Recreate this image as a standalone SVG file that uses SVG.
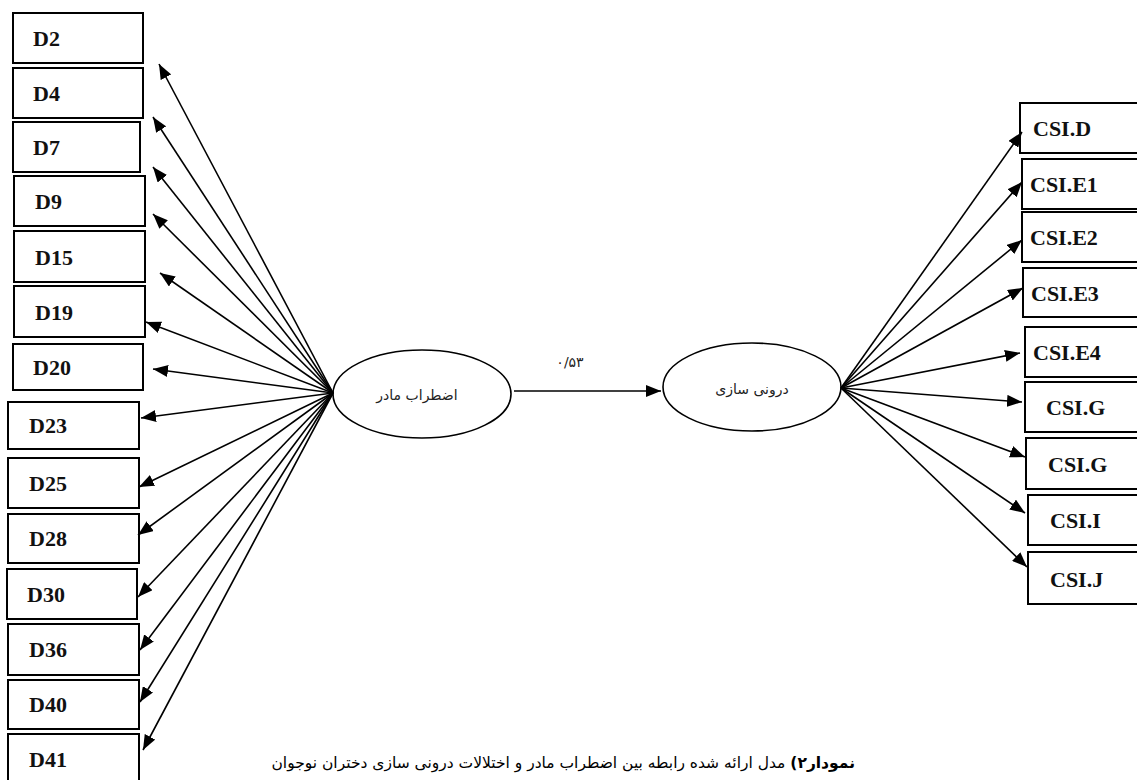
<svg xmlns="http://www.w3.org/2000/svg" width="1137" height="780" viewBox="0 0 1137 780">
<style>
.box{fill:#fff;stroke:#000;stroke-width:2}
.lbl{font-family:"Liberation Serif","Times New Roman",serif;font-weight:bold;font-size:22px;fill:#111}
.ell{fill:#fff;stroke:#000;stroke-width:1.6}
.fa{font-family:"DejaVu Sans","Noto Sans",sans-serif;font-size:14px;fill:#222}
.con line{stroke:#000;stroke-width:1.6;marker-end:url(#ah)}
</style>
<defs>
<marker id="ah" markerUnits="userSpaceOnUse" markerWidth="16" markerHeight="12" refX="15" refY="6" orient="auto">
<path d="M0,0 L15,6 L0,12 z" fill="#000"/>
</marker>
</defs>
<rect width="1137" height="780" fill="#fff"/>

<g id="D2"><rect class="box" x="13" y="13" width="130" height="50"/><text class="lbl" x="33" y="46">D2</text></g>
<g id="D4"><rect class="box" x="13" y="68" width="130" height="50"/><text class="lbl" x="33" y="101">D4</text></g>
<g id="D7"><rect class="box" x="13" y="122" width="127" height="50"/><text class="lbl" x="33" y="155">D7</text></g>
<g id="D9"><rect class="box" x="14" y="176" width="131" height="50"/><text class="lbl" x="35" y="209">D9</text></g>
<g id="D15"><rect class="box" x="14" y="231" width="131" height="51"/><text class="lbl" x="35" y="265">D15</text></g>
<g id="D19"><rect class="box" x="14" y="286" width="131" height="51"/><text class="lbl" x="35" y="320">D19</text></g>
<g id="D20"><rect class="box" x="13" y="344" width="130" height="46"/><text class="lbl" x="33" y="375">D20</text></g>
<g id="D23"><rect class="box" x="8" y="402" width="131" height="47"/><text class="lbl" x="29" y="433">D23</text></g>
<g id="D25"><rect class="box" x="8" y="458" width="131" height="50"/><text class="lbl" x="29" y="491">D25</text></g>
<g id="D28"><rect class="box" x="8" y="514" width="131" height="49"/><text class="lbl" x="29" y="546">D28</text></g>
<g id="D30"><rect class="box" x="7" y="569" width="130" height="50"/><text class="lbl" x="27" y="602">D30</text></g>
<g id="D36"><rect class="box" x="8" y="624" width="131" height="51"/><text class="lbl" x="29" y="657">D36</text></g>
<g id="D40"><rect class="box" x="8" y="680" width="131" height="49"/><text class="lbl" x="29" y="712">D40</text></g>
<g id="D41"><rect class="box" x="8" y="734" width="131" height="56"/><text class="lbl" x="29" y="767">D41</text></g>

<g id="CSI_D"><rect class="box" x="1020" y="103" width="125" height="50"/><text class="lbl" x="1033" y="136">CSI.D</text></g>
<g id="CSI_E1"><rect class="box" x="1022" y="159" width="125" height="50"/><text class="lbl" x="1030" y="192">CSI.E1</text></g>
<g id="CSI_E2"><rect class="box" x="1022" y="212" width="125" height="50"/><text class="lbl" x="1030" y="245">CSI.E2</text></g>
<g id="CSI_E3"><rect class="box" x="1023" y="268" width="125" height="49"/><text class="lbl" x="1031" y="301">CSI.E3</text></g>
<g id="CSI_E4"><rect class="box" x="1025" y="327" width="125" height="50"/><text class="lbl" x="1033" y="360">CSI.E4</text></g>
<g id="CSI_G1"><rect class="box" x="1025" y="382" width="125" height="50"/><text class="lbl" x="1046" y="415">CSI.G</text></g>
<g id="CSI_G2"><rect class="box" x="1026" y="438" width="125" height="51"/><text class="lbl" x="1048" y="472">CSI.G</text></g>
<g id="CSI_I"><rect class="box" x="1028" y="495" width="125" height="50"/><text class="lbl" x="1050" y="528">CSI.I</text></g>
<g id="CSI_J"><rect class="box" x="1028" y="552" width="125" height="52"/><text class="lbl" x="1050" y="587">CSI.J</text></g>

<g id="maternal_anxiety"><ellipse class="ell" cx="422" cy="394" rx="89" ry="44"/><text class="fa" x="417" y="400" text-anchor="middle" direction="rtl">اضطراب مادر</text></g>
<g id="internalizing"><ellipse class="ell" cx="752" cy="387" rx="89" ry="44"/><text class="fa" x="752" y="394" text-anchor="middle" direction="rtl">درونی سازی</text></g>

<g id="connectors" class="con">
<line x1="333" y1="393" x2="159" y2="64"/>
<line x1="333" y1="393" x2="153" y2="117"/>
<line x1="333" y1="393" x2="153" y2="167"/>
<line x1="333" y1="393" x2="153" y2="214"/>
<line x1="333" y1="393" x2="160" y2="273"/>
<line x1="333" y1="393" x2="146" y2="322"/>
<line x1="333" y1="393" x2="153" y2="369"/>
<line x1="333" y1="393" x2="141" y2="418"/>
<line x1="333" y1="393" x2="139" y2="487"/>
<line x1="333" y1="393" x2="138" y2="535"/>
<line x1="333" y1="393" x2="138" y2="597"/>
<line x1="333" y1="393" x2="140" y2="650"/>
<line x1="333" y1="393" x2="140" y2="702"/>
<line x1="333" y1="393" x2="143" y2="750"/>
<line x1="514" y1="391" x2="661" y2="391"/>
<line x1="841" y1="388" x2="1022" y2="132"/>
<line x1="841" y1="388" x2="1022" y2="182"/>
<line x1="841" y1="388" x2="1022" y2="240"/>
<line x1="841" y1="388" x2="1023" y2="288"/>
<line x1="841" y1="388" x2="1020" y2="353"/>
<line x1="841" y1="388" x2="1022" y2="402"/>
<line x1="841" y1="388" x2="1025" y2="457"/>
<line x1="841" y1="388" x2="1025" y2="513"/>
<line x1="841" y1="388" x2="1027" y2="567"/>
</g>
<text class="fa" x="570" y="367" text-anchor="middle" font-size="18">۰/۵۳</text>

<text x="855" y="768" direction="rtl" text-anchor="start" font-family="DejaVu Sans, sans-serif" font-size="15.5" fill="#000"><tspan font-weight="bold">نمودار۲)</tspan> مدل ارائه شده رابطه بین اضطراب مادر و اختلالات درونی سازی دختران نوجوان</text>
</svg>
